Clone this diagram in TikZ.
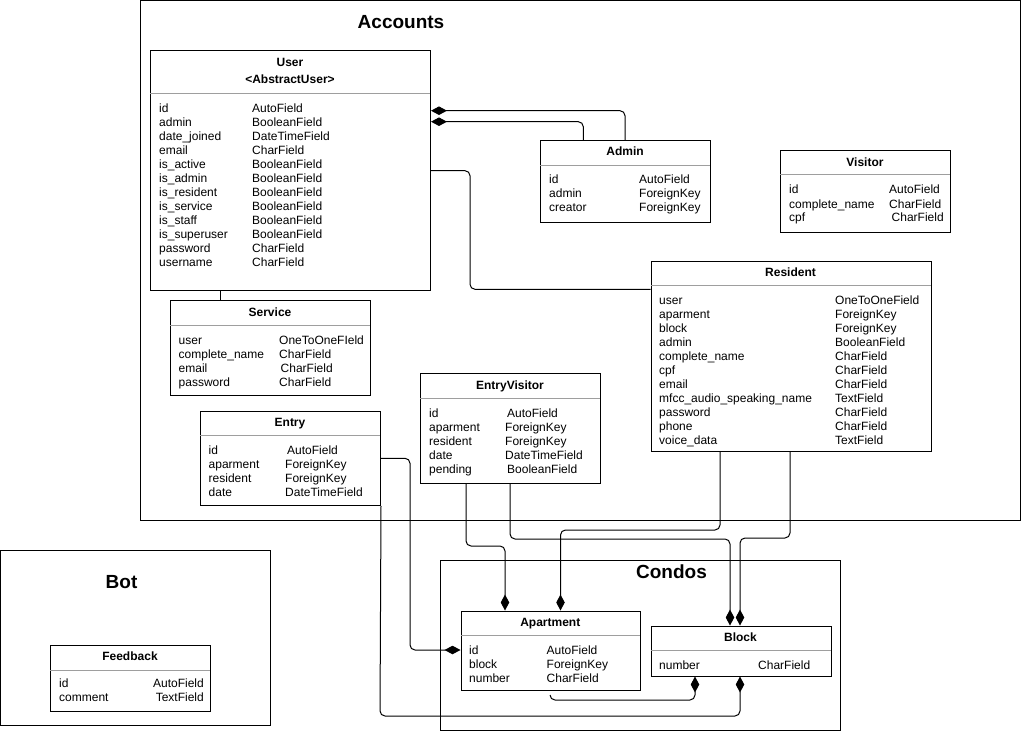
\documentclass[tikz,border=0pt]{standalone}
\usepackage{fontspec}
\setmainfont{Liberation Sans}
\usetikzlibrary{arrows.meta}
\newcommand\tbl[1]{\begin{tabular}[t]{@{}l@{}}#1\end{tabular}}
\newcommand\tblr[1]{\begin{tabular}[t]{@{}r@{}}#1\end{tabular}}
\begin{document}
\begin{tikzpicture}[x=1pt,y=-1pt,
  frame/.style={draw,line width=1pt},
  ftitle/.style={font=\fontsize{19}{22}\selectfont\bfseries,anchor=base,inner sep=0},
  box/.style={draw,line width=1pt,rectangle,anchor=north west,inner sep=0,fill=white},
  ttl/.style={font=\fontsize{12}{14}\selectfont\bfseries,anchor=base,inner sep=0},
  fld/.style={font=\fontsize{12}{14}\selectfont,anchor=base west,inner sep=0},
  fldr/.style={font=\fontsize{12}{14}\selectfont,anchor=base east,inner sep=0},
  sep/.style={draw=black!38,line width=1pt},
  conn/.style={draw,line width=1pt,rounded corners=5pt},
  dia/.style={-{Diamond[length=16pt,width=8.5pt]}}
]
\useasboundingbox (0,0) rectangle (1021,733);
% frames
\draw[frame] (140,0.5) rectangle (1020,520);
\node[ftitle] (accT) at (401,28.5) {Accounts};
\draw[frame] (440.5,560.5) rectangle (840.5,730);
\node[ftitle] (conT) at (671.5,578) {Condos};
\draw[frame] (0.5,550) rectangle (270,725);
\node[ftitle] (botT) at (121.5,588) {Bot};

% User
\node[box,minimum width=280pt,minimum height=240pt] (user) at (150,50) {};
\node[ttl] (userT) at (290,66.5) {User};
\node[ttl] (userS) at (290,84) {<AbstractUser>};
\draw[sep] (150,93.3) -- (430,93.3);
\node[fld] (userN) at (159,112.7) {\tbl{id\\admin\\date\_joined\\email\\is\_active\\is\_admin\\is\_resident\\is\_service\\is\_staff\\is\_superuser\\password\\username}};
\node[fld] (userY) at (252,112.7) {\tbl{AutoField\\BooleanField\\DateTimeField\\CharField\\BooleanField\\BooleanField\\BooleanField\\BooleanField\\BooleanField\\BooleanField\\CharField\\CharField}};

% Admin
\node[box,minimum width=170pt,minimum height=82pt] (admin) at (540,140) {};
\node[ttl] (adminT) at (625,155.5) {Admin};
\draw[sep] (540,166) -- (710,166);
\node[fld] (adminN) at (549,184) {\tbl{id\\admin\\creator}};
\node[fld] (adminY) at (639,184) {\tbl{AutoField\\ForeignKey\\ForeignKey}};

% Visitor
\node[box,minimum width=170pt,minimum height=82pt] (visitor) at (780,150) {};
\node[ttl] (visitorT) at (865,166.5) {Visitor};
\draw[sep] (780,175) -- (950,175);
\node[fld] (visitorN) at (789,194) {\tbl{id\\complete\_name\\cpf}};
\node[fld] (visitorY) at (889,194) {\tbl{AutoField\\CharField\\\hspace{2.5pt}CharField}};

% Resident
\node[box,minimum width=280pt,minimum height=190pt] (resident) at (650.5,260.5) {};
\node[ttl] (residentT) at (790.5,276.5) {Resident};
\draw[sep] (650.5,285.5) -- (930.5,285.5);
\node[fld] (residentN) at (659,304.5) {\tbl{user\\aparment\\block\\admin\\complete\_name\\cpf\\email\\mfcc\_audio\_speaking\_name\\password\\phone\\voice\_data}};
\node[fld] (residentY) at (835,304.5) {\tbl{OneToOneField\\ForeignKey\\ForeignKey\\BooleanField\\CharField\\CharField\\CharField\\TextField\\CharField\\CharField\\TextField}};

% Service
\node[box,minimum width=200pt,minimum height=95pt] (service) at (170,300) {};
\node[ttl] (serviceT) at (270,316.5) {Service};
\draw[sep] (170,325) -- (370,325);
\node[fld] (serviceN) at (178.5,344) {\tbl{user\\complete\_name\\email\\password}};
\node[fld] (serviceY) at (279,344) {\tbl{OneToOneFIeld\\CharField\\\hspace{1.5pt}CharField\\CharField}};

% Entry
\node[box,minimum width=180pt,minimum height=94.5pt] (entry) at (200,410.5) {};
\node[ttl] (entryT) at (290,426.5) {Entry};
\draw[sep] (200,435.5) -- (380,435.5);
\node[fld] (entryN) at (208.5,454) {\tbl{id\\aparment\\resident\\date}};
\node[fld] (entryY) at (285,454) {\tbl{\hspace{2pt}AutoField\\ForeignKey\\ForeignKey\\DateTimeField}};

% EntryVisitor
\node[box,minimum width=180pt,minimum height=110pt] (ev) at (420,372.5) {};
\node[ttl] (evT) at (510,389) {EntryVisitor};
\draw[sep] (420,398) -- (600,398);
\node[fld] (evN) at (429,417.3) {\tbl{id\\aparment\\resident\\date\\pending}};
\node[fld] (evY) at (505,417.3) {\tbl{\hspace{2pt}AutoField\\ForeignKey\\ForeignKey\\DateTimeField\\\hspace{2pt}BooleanField}};

% Apartment
\node[box,minimum width=179.5pt,minimum height=79.5pt] (apartment) at (460.5,610.5) {};
\node[ttl] (apartmentT) at (550.3,626.5) {Apartment};
\draw[sep] (460.5,635.5) -- (640,635.5);
\node[fld] (apartmentN) at (469,654) {\tbl{id\\block\\number}};
\node[fld] (apartmentY) at (546.5,654) {\tbl{AutoField\\ForeignKey\\CharField}};

% Block
\node[box,minimum width=180pt,minimum height=50pt] (block) at (650.5,625.5) {};
\node[ttl] (blockT) at (740.5,641.3) {Block};
\draw[sep] (650.5,650.5) -- (830.5,650.5);
\node[fld] (blockN) at (659,669.3) {\tbl{number}};
\node[fld] (blockY) at (758,669.3) {\tbl{CharField}};

% Feedback
\node[box,minimum width=160pt,minimum height=65.5pt] (feedback) at (50,645) {};
\node[ttl] (feedbackT) at (130,660.7) {Feedback};
\draw[sep] (50,670) -- (210,670);
\node[fld] (feedbackN) at (59,687.7) {\tbl{id\\comment}};
\node[fldr] (feedbackY) at (204,687.7) {\tblr{AutoField\\TextField}};

% connectors
\draw[conn,dia] (admin.north -| 625,0) |- (user.east |- 0,110.7);
\draw[conn,dia] (admin.north -| 583.3,0) |- (user.east |- 0,121.7);
\draw[conn] (user.east |- 0,170.7) -- (470,170.7) -- (470,289.3) -- (resident.west |- 0,289.3);
\draw[conn] (user.south -| 220,0) -- (service.north -| 220,0);
\draw[conn,dia] (entry.east |- 0,458.3) -- (410,458.3) -- (410,650) -- (apartment.west |- 0,650);
\draw[conn,dia] (entry.south east) -- (380,716) -- (740,716) -- (block.south -| 740,0);
\draw[conn,dia] (ev.south -| 466,0) -- (466,546) -- (505,546) -- (apartment.north -| 505,0);
\draw[conn,dia] (ev.south -| 510,0) -- (510,539) -- (730,539) -- (block.north -| 730,0);
\draw[conn,dia] (resident.south -| 720,0) -- (720,530) -- (560.5,530) -- (apartment.north -| 560.5,0);
\draw[conn,dia] (resident.south -| 790,0) -- (790,538) -- (740,538) -- (block.north -| 740,0);
\coordinate (apb) at (550,695);
\draw[conn,dia] (apb) -- (550,700) -- (695,700) -- (block.south -| 695,0);
\end{tikzpicture}
\end{document}
